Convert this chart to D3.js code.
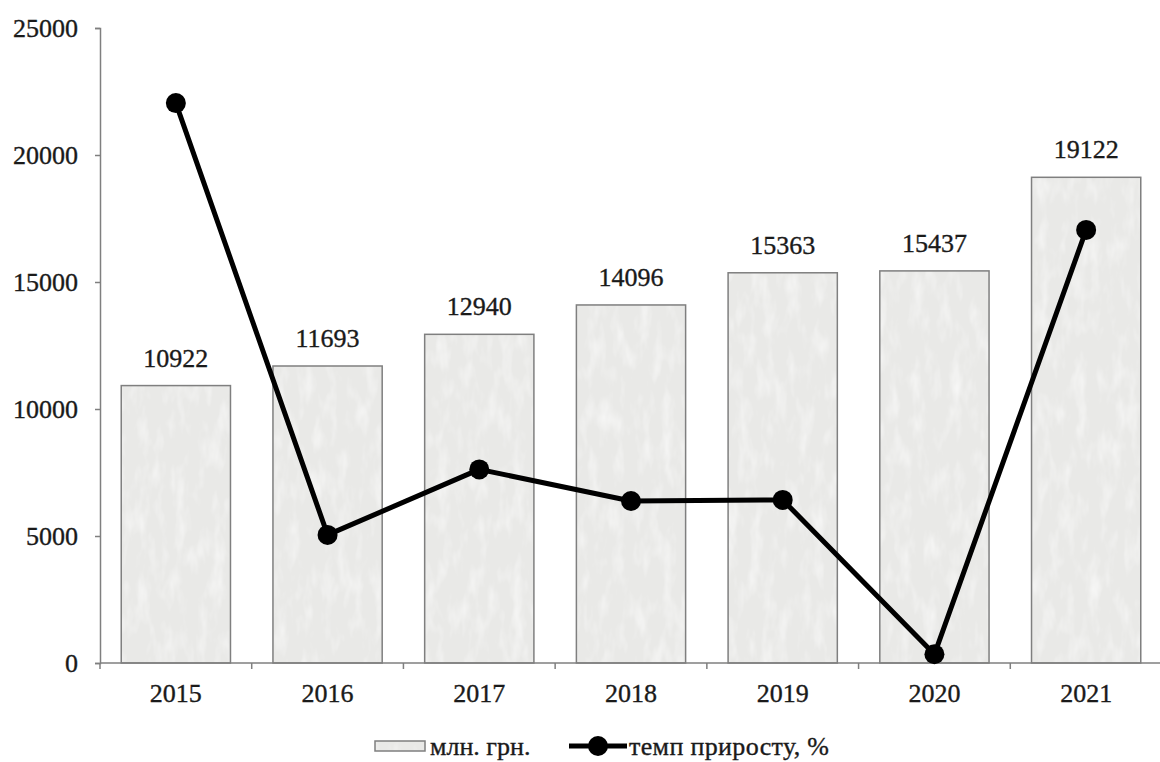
<!DOCTYPE html>
<html>
<head>
<meta charset="utf-8">
<script src="https://cdn.jsdelivr.net/npm/d3@7"></script>
<style>
  html, body { margin: 0; padding: 0; background: #fff; }
  svg { display: block; }
</style>
</head>
<body>
<svg id="chart" width="1160" height="762"></svg>
<script>
// Data
const years = ["2015", "2016", "2017", "2018", "2019", "2020", "2021"];
const volume = [10922, 11693, 12940, 14096, 15363, 15437, 19122];       // млн. грн.
const growth = [30.86, 7.06, 10.67, 8.93, 8.99, 0.48, 23.87];           // темп приросту, %
const yTicks = [0, 5000, 10000, 15000, 20000, 25000];
const legendLabels = ["млн. грн.", "темп приросту, %"];

(function draw() {
  const svg = d3.select("#chart");
  const axisColor = "#7f7f7f";
  const FONT = "'Liberation Serif', 'Times New Roman', serif";
  const FS = 26;

  const styleText = sel => sel
    .attr("font-family", FONT)
    .style("font-family", FONT)
    .attr("font-size", FS)
    .attr("fill", "#1a1a1a")
    .attr("stroke", "#1a1a1a")
    .attr("stroke-width", 0.35);

  const plotLeft = 100, plotRight = 1162, plotTop = 28, plotBottom = 663;

  const x = d3.scaleBand().domain(years).range([plotLeft, plotRight]).paddingInner(0.28).paddingOuter(0.14);
  const y = d3.scaleLinear().domain([0, 25000]).range([plotBottom, plotTop]);
  // hidden secondary scale for the growth rate
  const y2 = d3.scaleLinear().domain([0, 35]).range([plotBottom, plotTop]);

  // grainy light-gray fill for bars
  const defs = svg.append("defs");
  const filt = defs.append("filter").attr("id", "grain").attr("x", 0).attr("y", 0).attr("width", "100%").attr("height", "100%");
  filt.append("feTurbulence").attr("type", "fractalNoise").attr("baseFrequency", "0.08 0.03").attr("numOctaves", 3).attr("seed", 4).attr("result", "noise");
  filt.append("feColorMatrix").attr("in", "noise").attr("type", "matrix")
    .attr("values", "0 0 0 0 1  0 0 0 0 1  0 0 0 0 1  1.6 0 0 0 -0.75").attr("result", "spots");
  filt.append("feComposite").attr("in", "spots").attr("in2", "SourceGraphic").attr("operator", "in");

  const pat = defs.append("pattern").attr("id", "barFill").attr("patternUnits", "userSpaceOnUse")
    .attr("width", 1160).attr("height", 762);
  pat.append("rect").attr("width", 1160).attr("height", 762).attr("fill", "#e9e9e7");
  pat.append("rect").attr("width", 1160).attr("height", 762).attr("fill", "#e9e9e7").attr("filter", "url(#grain)").attr("opacity", 0.8);

  // y axis
  const yAxis = d3.axisLeft(y).tickValues(yTicks).tickSize(5).tickPadding(17).tickFormat(d3.format("d"));
  const gy = svg.append("g").attr("transform", `translate(${plotLeft},0)`).call(yAxis);
  gy.attr("font-family", null).attr("font-size", null);
  gy.select(".domain").attr("stroke", axisColor).attr("stroke-width", 1.5);
  gy.selectAll(".tick line").attr("stroke", axisColor).attr("stroke-width", 1.5);
  styleText(gy.selectAll(".tick text"));

  // bars
  svg.append("g").selectAll("rect").data(years).join("rect")
    .attr("x", d => x(d))
    .attr("y", (d, i) => y(volume[i]))
    .attr("width", x.bandwidth())
    .attr("height", (d, i) => y(0) - y(volume[i]))
    .attr("fill", "url(#barFill)")
    .attr("stroke", axisColor)
    .attr("stroke-width", 1.5);

  // value labels
  svg.append("g").selectAll("text").data(years).join("text")
    .attr("x", d => x(d) + x.bandwidth() / 2)
    .attr("y", (d, i) => y(volume[i]) - 19)
    .attr("text-anchor", "middle")
    .call(styleText)
    .text((d, i) => volume[i]);

  // x axis (ticks at category boundaries)
  const step = x.step();
  const bounds = d3.range(years.length + 1).map(i => plotLeft + i * step);
  const gx = svg.append("g");
  gx.append("line").attr("x1", plotLeft).attr("x2", plotRight).attr("y1", plotBottom).attr("y2", plotBottom)
    .attr("stroke", axisColor).attr("stroke-width", 1.5);
  gx.selectAll("line.tk").data(bounds).join("line").attr("class", "tk")
    .attr("x1", d => d).attr("x2", d => d).attr("y1", plotBottom).attr("y2", plotBottom + 6)
    .attr("stroke", axisColor).attr("stroke-width", 1.5);
  gx.selectAll("text").data(years).join("text")
    .attr("x", d => x(d) + x.bandwidth() / 2)
    .attr("y", 702)
    .attr("text-anchor", "middle")
    .call(styleText)
    .text(d => d);

  // growth line
  const line = d3.line().x((d, i) => x(years[i]) + x.bandwidth() / 2).y(d => y2(d));
  svg.append("path").datum(growth)
    .attr("d", line)
    .attr("fill", "none")
    .attr("stroke", "#000")
    .attr("stroke-width", 5)
    .attr("stroke-linejoin", "round");
  svg.append("g").selectAll("circle").data(growth).join("circle")
    .attr("cx", (d, i) => x(years[i]) + x.bandwidth() / 2)
    .attr("cy", d => y2(d))
    .attr("r", 10)
    .attr("fill", "#000");

  // legend
  const lg = svg.append("g");
  lg.append("rect").attr("x", 375).attr("y", 741).attr("width", 50).attr("height", 10)
    .attr("fill", "url(#barFill)").attr("stroke", axisColor).attr("stroke-width", 1.5);
  lg.append("text").attr("x", 430).attr("y", 755).call(styleText).text(legendLabels[0]);
  lg.append("line").attr("x1", 569).attr("x2", 627).attr("y1", 746).attr("y2", 746)
    .attr("stroke", "#000").attr("stroke-width", 5);
  lg.append("circle").attr("cx", 598).attr("cy", 746).attr("r", 10).attr("fill", "#000");
  lg.append("text").attr("x", 629).attr("y", 755).call(styleText)
    .attr("textLength", 200).attr("lengthAdjust", "spacing")
    .text(legendLabels[1]);
})();
</script>
</body>
</html>
